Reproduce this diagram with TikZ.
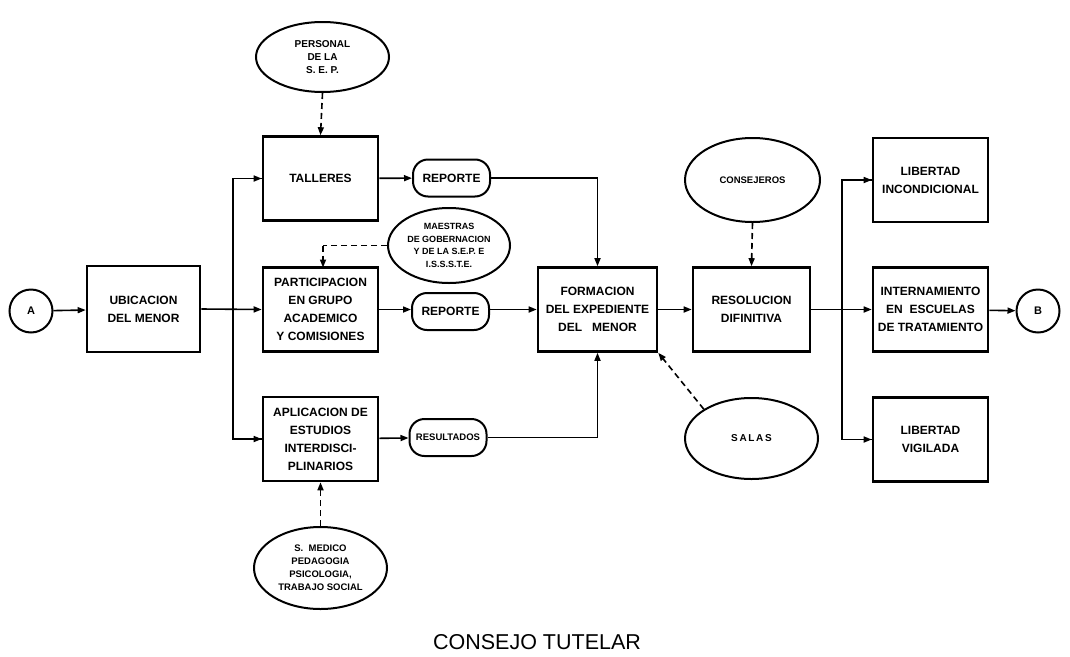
\documentclass[tikz,border=0pt]{standalone}
\usepackage{fontspec}
\setmainfont{Liberation Sans}
\usetikzlibrary{arrows.meta,shapes.geometric}
\begin{document}
\begin{tikzpicture}[x=1pt,y=-1pt,
  box/.style={draw,line width=2.6pt,minimum width=115pt,minimum height=84pt,inner sep=0pt,align=center,font=\bfseries\fontsize{12}{18}\selectfont},
  oval/.style={draw,ellipse,line width=2pt,inner sep=0pt,align=center,font=\bfseries\fontsize{9.5}{12}\selectfont},
  pill/.style={draw,line width=2pt,rounded corners=15pt,minimum width=77pt,minimum height=37pt,inner sep=0pt,align=center,font=\bfseries\fontsize{12}{14}\selectfont},
  term/.style={draw,circle,line width=2pt,minimum size=43pt,inner sep=0pt,font=\bfseries\fontsize{11}{12}\selectfont},
  conn/.style={line width=1.6pt,-{Triangle[length=8pt,width=6pt]}},
  line/.style={line width=1.6pt},
  dconn/.style={line width=1.6pt,dash pattern=on 6pt off 4pt,-{Triangle[length=8pt,width=6pt]}},
  dline/.style={line width=1.6pt,dash pattern=on 6pt off 4pt}]
\useasboundingbox (0,0) rectangle (1070,656);

% terminals
\node[term] (A) at (31,311) {A};
\node[term] (B) at (1038,311) {B};

% main boxes
\node[box,minimum width=113pt,minimum height=86pt] (ub) at (143.5,309) {UBICACION\\DEL MENOR};
\node[box] (tall) at (320.5,178.5) {TALLERES};
\node[box] (part) at (320.5,309.5) {PARTICIPACION\\EN GRUPO\\ACADEMICO\\Y COMISIONES};
\node[box] (apl) at (320.5,439) {APLICACION DE\\ESTUDIOS\\INTERDISCI-\\PLINARIOS};
\node[box,minimum width=119pt] (form) at (597.5,309.5) {FORMACION\\DEL EXPEDIENTE\\DEL \ \ MENOR};
\node[box,minimum width=117pt] (res) at (751.5,309.5) {RESOLUCION\\DIFINITIVA};
\node[box] (libi) at (930.5,180) {LIBERTAD\\INCONDICIONAL};
\node[box] (intern) at (930.5,309.5) {INTERNAMIENTO\\EN \ ESCUELAS\\DE TRATAMIENTO};
\node[box] (libv) at (930.5,439.5) {LIBERTAD\\VIGILADA};

% pills
\node[pill] (rep1) at (451.5,178) {REPORTE};
\node[pill] (rep2) at (450.5,311.5) {REPORTE};
\node[pill,font=\bfseries\fontsize{9.5}{11}\selectfont] (resu) at (448,437.5) {RESULTADOS};

% ovals
\node[oval,minimum width=133pt,minimum height=70pt,font=\bfseries\fontsize{10}{13}\selectfont] (pers) at (322.5,57) {PERSONAL\\DE LA\\S. E. P.};
\node[oval,minimum width=122pt,minimum height=75pt,font=\bfseries\fontsize{9}{12.5}\selectfont] (maes) at (449,245.5) {MAESTRAS\\DE GOBERNACION\\Y DE LA S.E.P. E\\I.S.S.S.T.E.};
\node[oval,minimum width=133pt,minimum height=82pt,font=\bfseries\fontsize{9.5}{13}\selectfont] (smed) at (320.5,568) {S. \ MEDICO\\PEDAGOGIA\\PSICOLOGIA,\\TRABAJO SOCIAL};
\node[oval,minimum width=135pt,minimum height=84pt] (cons) at (752.5,180) {CONSEJEROS};
\node[oval,minimum width=133pt,minimum height=81pt,font=\bfseries\fontsize{10}{12}\selectfont] (salas) at (751.5,438.5) {S\,A\,L\,A\,S};

% caption
\node[font=\fontsize{21.5}{25}\selectfont] (cap) at (537,642) {CONSEJO TUTELAR};

% branch points
\coordinate (br1) at (233,309.5);
\coordinate (br2) at (842,309.5);

% connectors
\draw[conn] (A) -- (ub);
\draw[conn] (ub.east) -- (part.west);
\draw[line] (br1) |- (tall.west);
\draw[line] (br1) |- (apl.west);
\draw[conn] (233,178.5) -- (tall.west);
\draw[conn] (233,439) -- (apl.west);

\draw[conn] (tall) -- (rep1);
\draw[conn] (part.east) -- (rep2.west |- part.east);
\draw[conn] (apl) -- (resu);

\draw[conn] (rep1.east) -| (form.north);
\draw[conn] (rep2.east |- form.west) -- (form.west);
\draw[conn] (resu.east) -| (form.south);

\draw[conn] (form) -- (res);
\draw[conn] (res) -- (intern);
\draw[line] (br2) |- (libi.west);
\draw[line] (br2) |- (libv.west);
\draw[conn] (842,180) -- (libi.west);
\draw[conn] (842,439.5) -- (libv.west);
\draw[conn] (intern) -- (B);

% dashed influences
\draw[dconn] (pers.south) -- (tall.north);
\draw[dline] (maes.west) -- (323,245.5);
\draw[dconn] (323,245.5) -- (323,267.5);
\draw[dconn] (smed.north) -- (apl.south);
\draw[dconn] (cons.south) -- (res.north);
\draw[dconn] (salas.north west) -- (form.south east);
\end{tikzpicture}
\end{document}
